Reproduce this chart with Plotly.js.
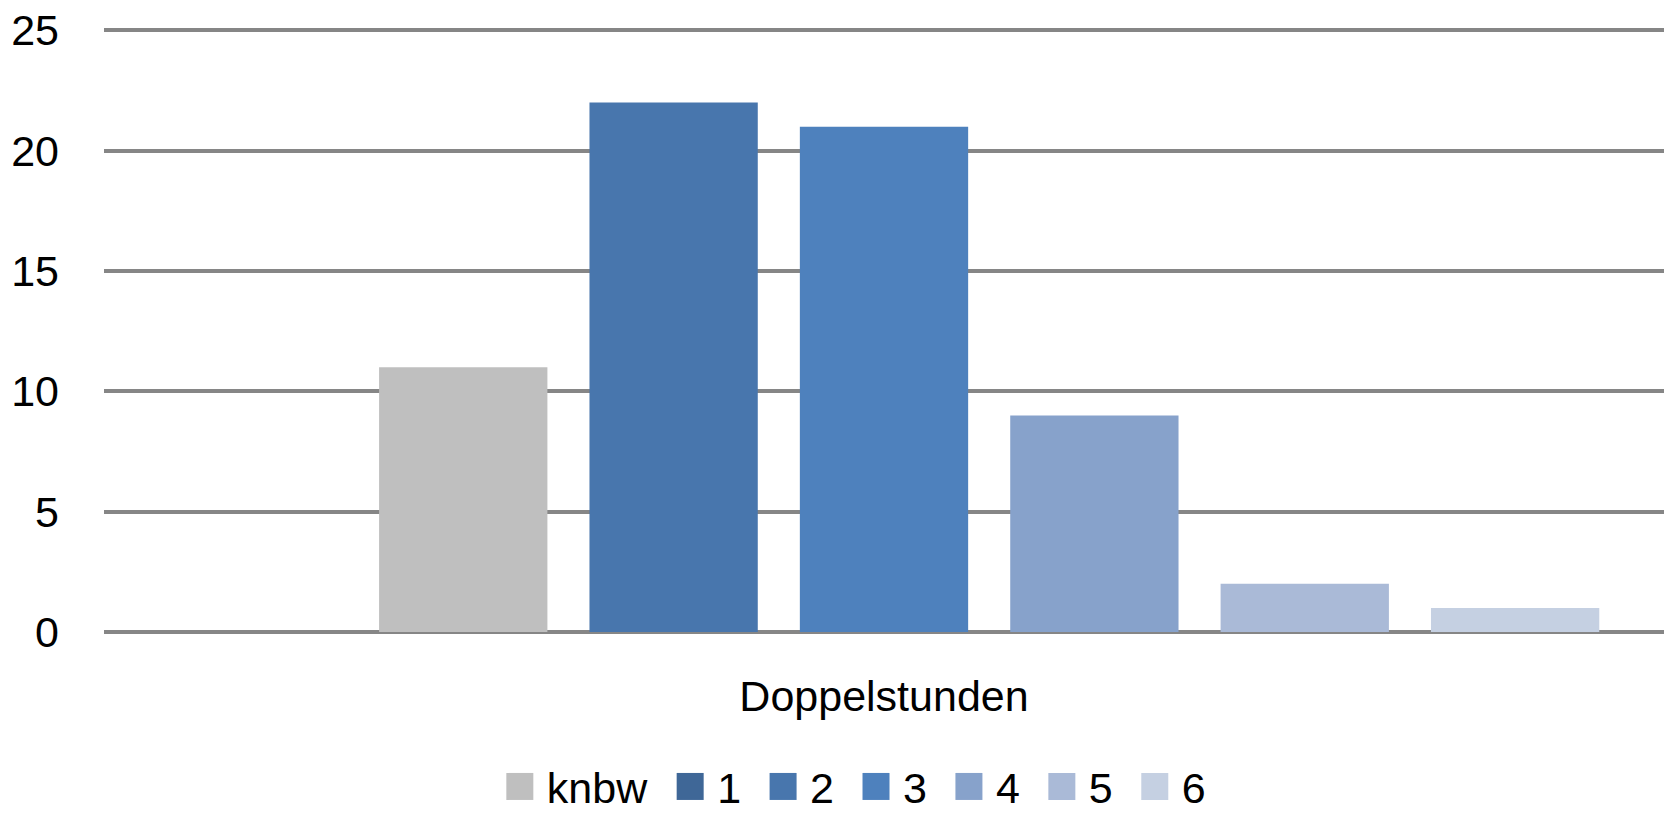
<!DOCTYPE html>
<html>
<head>
<meta charset="utf-8">
<script src="https://cdn.plot.ly/plotly-3.0.1.min.js"></script>
<style>
  html, body { margin: 0; padding: 0; background: #ffffff; }
  #chart { width: 1667px; height: 814px; }
</style>
</head>
<body>
<div id="chart"></div>
<script>
// Data
const categories = ["Doppelstunden"];
const seriesNames = ["1", "knbw", "2", "3", "4", "5", "6"];   // bar order in the group
const seriesValues = [0, 11, 22, 21, 9, 2, 1];
const legendOrder = ["knbw", "1", "2", "3", "4", "5", "6"];
const seriesColors = {
  "knbw": "#BFBFBF",
  "1": "#3F6797",
  "2": "#4876AD",
  "3": "#4E81BD",
  "4": "#87A2CB",
  "5": "#AABAD7",
  "6": "#C5D0E2"
};
const yTicks = [0, 5, 10, 15, 20, 25];

const FONT = "Liberation Sans, Arial, sans-serif";
const FS = 43;

const traces = seriesNames.map((name, i) => ({
  type: "bar",
  name: name,
  x: categories,
  y: [seriesValues[i]],
  marker: { color: seriesColors[name], line: { width: 0 } },
  legendrank: legendOrder.indexOf(name) + 1,
  hoverinfo: "skip"
}));

const layout = {
  width: 1667,
  height: 814,
  paper_bgcolor: "#ffffff",
  plot_bgcolor: "#ffffff",
  margin: { l: 104, r: 3, t: 28, b: 182, autoexpand: false },
  barmode: "group",
  bargap: 0.056,
  bargroupgap: 0.2,
  font: { family: FONT, size: FS, color: "#000000" },
  xaxis: {
    type: "category",
    automargin: false,
    showgrid: false,
    zeroline: false,
    showline: false,
    ticks: "",
    ticklabelstandoff: 35,
    tickfont: { family: FONT, size: FS, color: "#000000" }
  },
  yaxis: {
    range: [0, 25.1],
    automargin: false,
    tickvals: yTicks,
    ticktext: yTicks.map(String),
    showgrid: true,
    gridcolor: "#868686",
    gridwidth: 4,
    zeroline: true,
    zerolinecolor: "#868686",
    zerolinewidth: 4,
    showline: false,
    ticks: "",
    ticklabelstandoff: 44,
    tickfont: { family: FONT, size: FS, color: "#000000" }
  },
  showlegend: true,
  legend: {
    orientation: "h",
    xref: "container",
    yref: "container",
    x: 0.508,
    xanchor: "center",
    y: 0,
    yanchor: "bottom",
    traceorder: "normal",
    itemwidth: 54,
    font: { family: FONT, size: FS, color: "#000000" },
    bgcolor: "rgba(0,0,0,0)"
  }
};

Plotly.newPlot("chart", traces, layout, { staticPlot: true, displayModeBar: false }).then(() => {
  document.querySelectorAll(".legend .legendpoints path").forEach(p => {
    p.setAttribute("d", "M18.5,13.5H-8.5V-13.5H18.5Z");
    p.style.strokeWidth = "0px";
  });
  const lg = document.querySelector("g.legend");
  if (lg) {
    const t = lg.getAttribute("transform") || "";
    const m = t.match(/translate\(\s*([-\d.e]+)[ ,]+([-\d.e]+)\s*\)/);
    if (m) {
      lg.setAttribute("transform", "translate(" + parseFloat(m[1]) + "," + (parseFloat(m[2]) + 7) + ")");
    }
  }
});
</script>
</body>
</html>
